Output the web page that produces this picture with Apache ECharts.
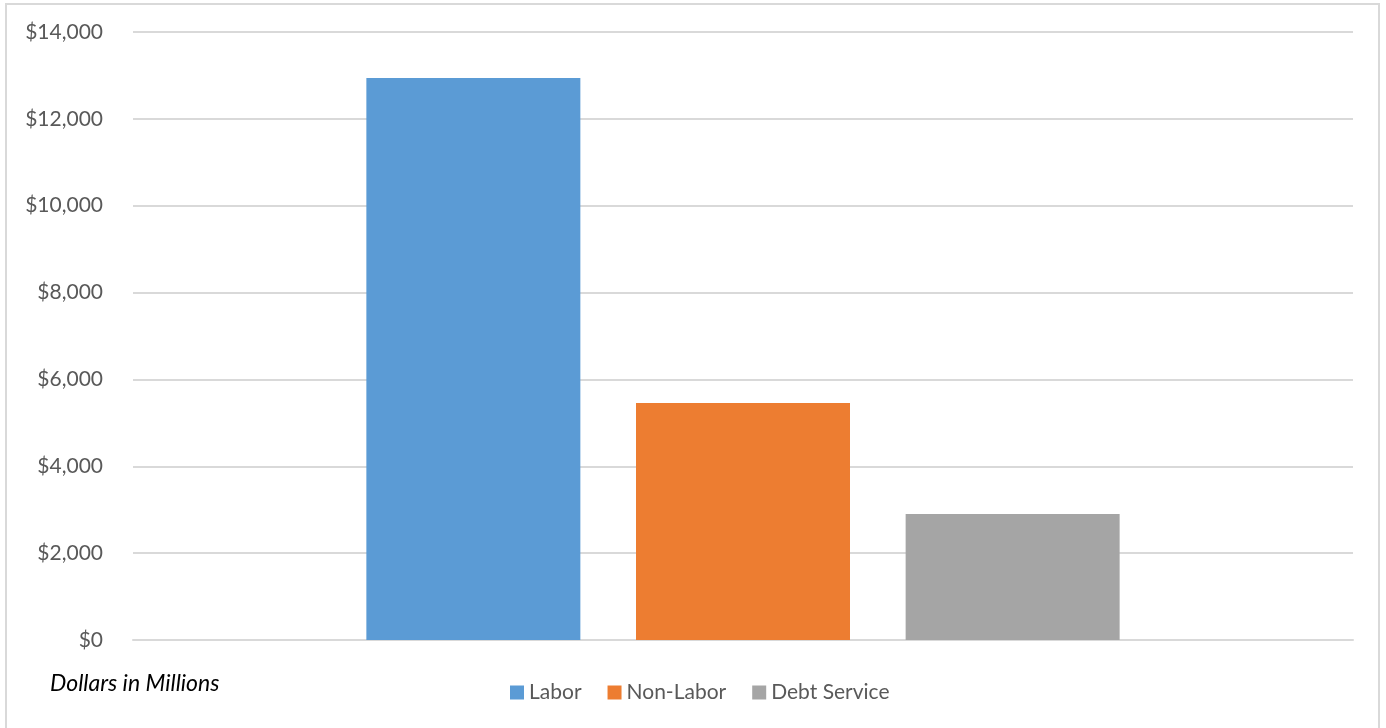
<!DOCTYPE html>
<html>
<head>
<meta charset="utf-8">
<script src="https://cdn.jsdelivr.net/npm/echarts@6/dist/echarts.min.js"></script>
<style>
  html, body { margin: 0; padding: 0; background: #fff; }
  #frame { position: absolute; left: 5px; top: 3px; width: 1375px; height: 740px; border: 2px solid #d9d9d9; box-sizing: border-box; }
  #chart { position: absolute; left: 0; top: 0; width: 1386px; height: 728px; }
</style>
</head>
<body>
<div id="frame"></div>
<div id="chart"></div>
<script>
const categories = ['Budget'];
const seriesNames = ['Labor', 'Non-Labor', 'Debt Service'];
const seriesValues = [12940, 5460, 2900];
const seriesColors = ['#5b9bd5', '#ed7d31', '#a5a5a5'];

const chart = echarts.init(document.getElementById('chart'));

const option = {
  animation: false,
  textStyle: { fontFamily: 'Lato' },
  grid: { left: 133, right: 33, top: 32, bottom: 88, containLabel: false },
  legend: {
    data: seriesNames,
    left: 505,
    top: 677,
    icon: 'rect',
    itemWidth: 14,
    itemHeight: 14,
    itemGap: 26,
    textStyle: { color: '#595959', fontSize: 21, fontFamily: 'Lato' }
  },
  xAxis: {
    type: 'category',
    data: categories,
    axisLine: { show: true, lineStyle: { color: '#d9d9d9', width: 2 } },
    axisTick: { show: false },
    axisLabel: { show: false }
  },
  yAxis: {
    type: 'value',
    min: 0,
    max: 14000,
    interval: 2000,
    axisLine: { show: false },
    axisTick: { show: false },
    splitLine: { lineStyle: { color: '#d9d9d9', width: 2 } },
    axisLabel: {
      color: '#595959',
      fontSize: 21,
      margin: 30,
      formatter: v => '$' + v.toLocaleString('en-US')
    }
  },
  graphic: [{
    type: 'text',
    left: 50,
    top: 672,
    style: { text: 'Dollars in Millions', fill: '#000', font: 'italic 23px Lato' }
  }],
  series: seriesNames.map((name, i) => ({
    name: name,
    type: 'bar',
    data: [seriesValues[i]],
    barWidth: 214,
    barGap: '26%',
    itemStyle: { color: seriesColors[i] }
  }))
};

chart.setOption(option);
</script>
</body>
</html>
